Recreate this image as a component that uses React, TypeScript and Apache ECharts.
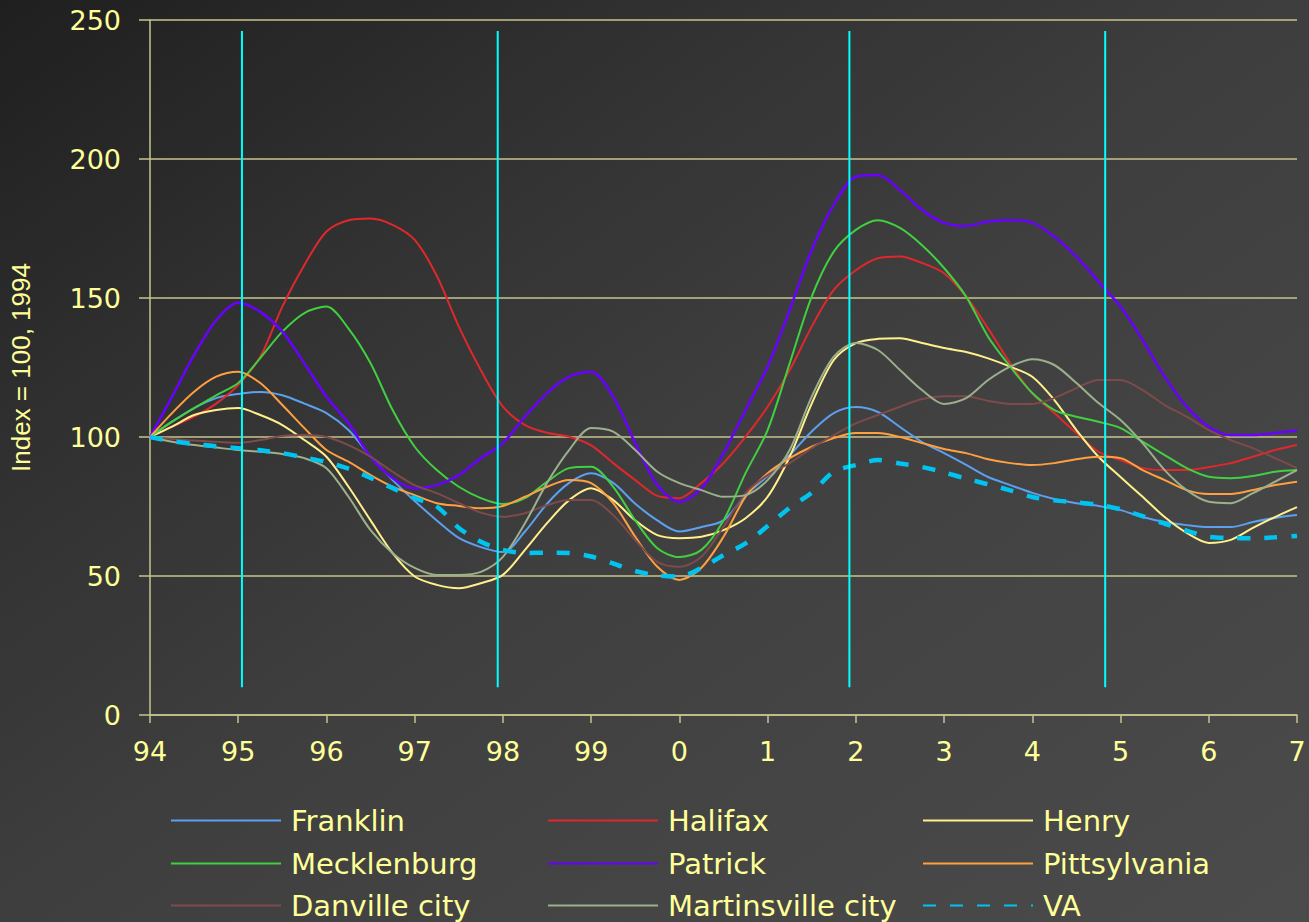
import React, { useEffect, useRef } from "react";
import * as echarts from "echarts";

const X_LABELS = ["94", "95", "96", "97", "98", "99", "0", "1", "2", "3", "4", "5", "6", "7"];
const Y_TICKS = [0, 50, 100, 150, 200, 250];

const SERIES_NAMES = [
  "Franklin",
  "Halifax",
  "Henry",
  "Mecklenburg",
  "Patrick",
  "Pittsylvania",
  "Danville city",
  "Martinsville city",
  "VA",
];

// quarterly index values, 1994 = 100
const franklin = [100,105.5,110.4,114,115.5,116.2,115,112,108.6,102.5,93,84.5,77,70,63.7,60.4,58.6,66,76,83.5,87,83.5,76,70,66,67.6,70,79,86,93.5,102,108.6,110.8,109,103.6,98.2,94.2,90,85.6,82.7,79.9,77.7,76.2,75.2,73.7,71.2,69.4,68.3,67.6,67.6,69.4,70.9,71.9];
const halifax = [100,103.7,107.3,112,118.7,128.9,146.9,161.9,173.9,178,178.6,176.3,170.9,158,139.7,124,110.9,104.3,101.5,100.1,97,90.6,84.5,78.8,78,83.5,90.6,100.1,110.9,124,139.7,152.9,160,164.3,164.9,162.6,158.9,150.5,139,126.5,115.7,108.6,101.4,94.7,91.7,88.8,88.1,88.1,89.2,90.6,92.9,95.3,97.1];
const henry = [100,103.7,107.9,109.7,110.4,107.9,104.3,98.9,92.9,82.1,70,58.2,49.8,46.8,45.6,47.4,50.4,59.4,69,77.3,81.6,77.3,70,64.7,63.6,64.1,66.5,70.8,78.5,92.9,112,127.7,133.8,135.3,135.5,133.8,132,130.6,128.3,125.3,121.7,113.3,102.5,92.9,85.6,78.5,71.2,65.5,61.9,63,67.3,71.2,74.8];
const mecklenburg = [100,105.5,110.4,115,119.4,128.4,137.9,144.6,146.9,139,126.5,109.7,96.5,88.1,82.1,78,75.9,78,83.9,88.8,89.3,82.1,70,60,56.8,59.4,70,87,102.5,126.5,150.5,166.7,174.5,178,175.2,169,160.8,150.5,136,125.3,115.8,109.7,107.3,105.5,103.2,98.3,93.5,88.8,85.7,85.2,86,87.5,88.1];
const patrick = [100,114.5,129.5,142,148.3,145,137.9,126.5,114.5,105,92.9,85.2,81.6,82.7,86.3,92.4,97.8,107.3,115.8,121.7,123.5,114.5,97.8,82.7,76.7,81.5,94.2,109.7,125.3,145.7,167.3,183.5,193.6,194.2,188.8,181.7,177,175.9,177.5,178,177.1,172,164.9,155.9,146.9,134.9,121.7,110.9,103.7,100.7,100.7,101.4,102.3];
const pittsylvania = [100,108.6,116.3,121.7,123.5,119.4,111.5,103.2,95.3,91.1,86.3,82.1,79.1,76.2,75.2,74.4,75.2,78.5,82.1,84.5,83.4,76.2,64.1,53.3,48.6,53,64.1,78.5,87,92.4,96.5,99.6,101.4,101.4,100,97.8,95.7,94.2,92,90.6,89.9,90.6,92,92.9,92.4,88.1,84.5,80.9,79.5,79.5,80.9,82.7,83.9];
const danville = [100,99.3,98.7,98.3,97.9,98.9,100.4,100.7,100,97.1,92.9,87.5,82.7,79.8,76.2,72.8,71.3,72.6,75.5,77.3,77.3,71.9,62.9,55.1,53.3,56.9,67.7,79.8,86.3,90.6,96,100.7,104.9,107.9,110.9,113.7,114.7,114.7,113,111.9,111.9,114,117.6,120.5,120.5,116.9,111.5,107.3,102.5,98.9,96,92.4,88.8];
const martinsville = [100,98.3,97.1,96.2,95.3,94.7,93.9,92.4,88.8,78.5,66.5,58.2,52.9,50.4,50.4,51.5,56.9,69,83.5,95.3,103.2,101.9,95.3,87.5,83.4,80.9,78.5,79.1,84.5,95.3,114.5,128.9,133.8,131.3,124.1,116.9,111.9,114,120.5,125.3,128,125.9,119.4,112.2,106.1,97.8,88.1,80.9,76.7,76.2,79.8,83.9,88.1];
const va = [100,98.5,97.5,96.7,96,95.2,94.2,92.6,91,88.6,85.3,81.6,78,75,67.3,62.3,59.4,58.3,58.4,58.3,57,54.5,51.8,50.2,49.8,52.9,57.5,61.7,68,74.5,80,87.5,89.9,91.7,90.5,89.2,87.3,85,83,80.8,78.4,77.2,76.5,75.6,74,71.5,68.8,66.3,64.1,63.7,63.6,63.9,64.4];

// vertical reference lines (years after 1994) and their value span
const CYCLE_LINES = [1.042, 3.941, 7.927, 10.826];
const CYCLE_SPAN = [10, 246];

const SERIES_VALUES = [franklin, halifax, henry, mecklenburg, patrick, pittsylvania, danville, martinsville, va];
const SERIES_COLORS = ["#5ca0f0", "#e0282c", "#fff08c", "#40d040", "#6a00ff", "#ffa040", "#7e4a4a", "#9cb08c", "#00c4f0"];

const TEXT_COLOR = "#ffff99";
const AXIS_COLOR = "#c8c48e";
const LEGEND_COLS = [170, 547, 922];
const LEGEND_ROWS = [806, 849, 891];

export default function App() {
  const ref = useRef<HTMLDivElement>(null);

  useEffect(() => {
    if (!ref.current) return;
    const chart = echarts.init(ref.current, null, { renderer: "svg" });

    const lineSeries: any[] = SERIES_NAMES.map((name, k) => {
      const isVA = name === "VA";
      return {
        name,
        type: "line",
        data: SERIES_VALUES[k].map((v, i) => [i / 4, v]),
        smooth: 0.3,
        symbol: "none",
        showSymbol: false,
        z: 2 + k,
        lineStyle: {
          color: SERIES_COLORS[k],
          width: isVA ? 4.5 : name === "Patrick" ? 2.5 : 2,
          type: isVA ? [13, 14] : "solid",
        },
        itemStyle: { color: SERIES_COLORS[k] },
      };
    });

    const cycleSeries: any[] = CYCLE_LINES.map((x, k) => ({
      name: "cycle" + k,
      type: "line",
      data: [
        [x, CYCLE_SPAN[0]],
        [x, CYCLE_SPAN[1]],
      ],
      symbol: "none",
      z: 20,
      lineStyle: { color: "#00ffff", width: 2 },
      silent: true,
    }));

    const legends: any[] = SERIES_NAMES.map((name, k) => ({
      data: [name],
      left: LEGEND_COLS[k % 3],
      top: LEGEND_ROWS[Math.floor(k / 3)],
      padding: 0,
      itemWidth: 110,
      itemHeight: 14,
      selectedMode: false,
      itemStyle: { opacity: 0 },
      textStyle: {
        color: TEXT_COLOR,
        fontSize: 29,
        fontFamily: "DejaVu Sans",
        padding: [0, 0, 0, 5],
      },
    }));

    chart.setOption({
      animation: false,
      backgroundColor: "transparent",
      grid: { left: 149, right: 12, top: 20, bottom: 207, containLabel: false },
      legend: legends,
      xAxis: {
        type: "value",
        min: 0,
        max: X_LABELS.length - 1,
        interval: 1,
        axisLine: { show: true, lineStyle: { color: AXIS_COLOR, width: 1.5 } },
        axisTick: { show: true, length: 8, lineStyle: { color: AXIS_COLOR, width: 1.5 } },
        splitLine: { show: false },
        axisLabel: {
          color: TEXT_COLOR,
          fontSize: 27,
          fontFamily: "DejaVu Sans",
          margin: 23,
          formatter: (v: number) => X_LABELS[Math.round(v)] ?? "",
        },
      },
      yAxis: {
        type: "value",
        min: Y_TICKS[0],
        max: Y_TICKS[Y_TICKS.length - 1],
        interval: 50,
        name: "Index = 100, 1994",
        nameLocation: "middle",
        nameRotate: 90,
        nameGap: 116,
        nameTextStyle: { color: TEXT_COLOR, fontSize: 26, fontFamily: "Liberation Sans" },
        axisLine: { show: true, lineStyle: { color: AXIS_COLOR, width: 1.5 } },
        axisTick: { show: true, length: 11, lineStyle: { color: AXIS_COLOR, width: 1.5 } },
        splitLine: { show: true, lineStyle: { color: AXIS_COLOR, width: 1.5 } },
        axisLabel: {
          color: TEXT_COLOR,
          fontSize: 27,
          fontFamily: "DejaVu Sans",
          margin: 29,
        },
      },
      series: [...lineSeries, ...cycleSeries],
    });

    return () => chart.dispose();
  }, []);

  return (
    <div
      style={{
        position: "fixed",
        left: 0,
        top: 0,
        width: 1309,
        height: 922,
        background: "linear-gradient(145deg, #1f1f1f 0%, #323232 28%, #3f3f3f 52%, #464646 78%, #4b4b4b 100%)",
      }}
    >
      <div ref={ref} style={{ width: 1309, height: 922 }} />
    </div>
  );
}
